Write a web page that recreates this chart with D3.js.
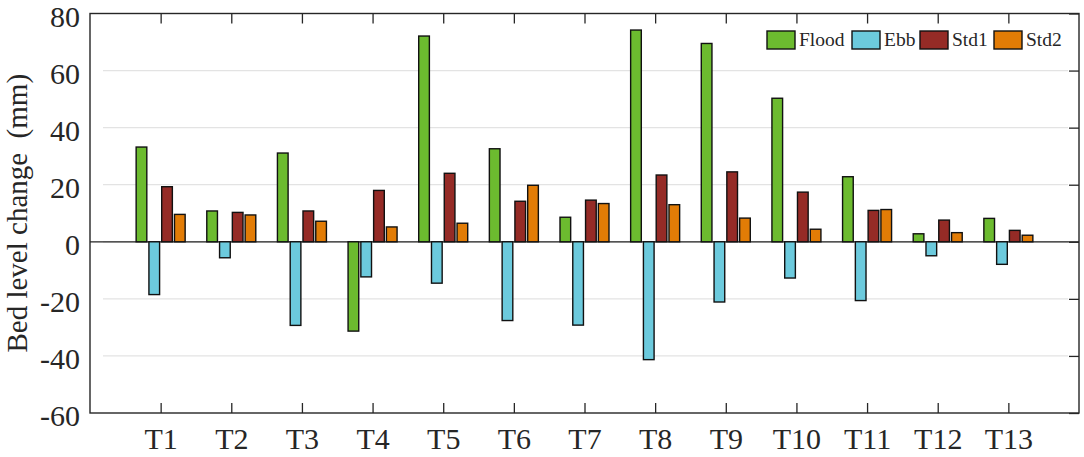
<!DOCTYPE html>
<html>
<head>
<meta charset="utf-8">
<script src="https://cdn.jsdelivr.net/npm/d3@7"></script>
<style>
  body { margin: 0; background: #fff; }
  svg { display: block; }
  svg text { font-family: "Liberation Serif", "Times New Roman", Times, serif !important; }
</style>
</head>
<body>
<div id="chart"></div>
<script>
const categories = ["T1", "T2", "T3", "T4", "T5", "T6", "T7", "T8", "T9", "T10", "T11", "T12", "T13"];
const seriesNames = ["Flood", "Ebb", "Std1", "Std2"];
const flood = [33.2, 10.8, 31.1, -31.3, 72.1, 32.6, 8.6, 74.2, 69.5, 50.3, 22.8, 2.8, 8.2];
const ebb = [-18.5, -5.6, -29.3, -12.3, -14.5, -27.6, -29.2, -41.3, -21.1, -12.7, -20.6, -4.9, -7.9];
const std1 = [19.3, 10.3, 10.8, 18.0, 24.0, 14.2, 14.6, 23.4, 24.5, 17.4, 11.0, 7.6, 4.0];
const std2 = [9.6, 9.4, 7.2, 5.2, 6.5, 19.8, 13.4, 13.0, 8.3, 4.4, 11.3, 3.2, 2.3];
const yTicks = [-60, -40, -20, 0, 20, 40, 60, 80];
const colors = ["#6cbb2f", "#6ccadd", "#952b26", "#e27c06"];

const width = 1084, height = 457;
const margin = { top: 13.5, right: 5, bottom: 44, left: 90 };

const svg = d3.select("#chart").append("svg")
  .attr("width", width).attr("height", height);

// categories sit at 1..13, plot edges at 0 and 14
const x = d3.scaleLinear().domain([0, 14]).range([margin.left, width - margin.right]);
const y = d3.scaleLinear().domain([-60, 80]).range([height - margin.bottom, margin.top]);
const sub = d3.scaleBand().domain(seriesNames).range([-24.5, 24.5]).paddingInner(0.165);

const x0 = x.range()[0], x1 = x.range()[1];
const yTop = y(80), yBot = y(-60);

// gridlines
svg.append("g")
  .selectAll("line")
  .data(yTicks.filter(t => t !== -60 && t !== 80))
  .join("line")
    .attr("x1", x0 + 13).attr("x2", x1 - 11)
    .attr("y1", d => y(d)).attr("y2", d => y(d))
    .attr("stroke", "#e3e3e3").attr("stroke-width", 1.2);

// zero line
svg.append("line")
  .attr("x1", x0).attr("x2", x1)
  .attr("y1", y(0)).attr("y2", y(0))
  .attr("stroke", "#222").attr("stroke-width", 1.3);

// bars
const data = [flood, ebb, std1, std2];
data.forEach((vals, j) => {
  svg.append("g")
    .selectAll("rect")
    .data(vals)
    .join("rect")
      .attr("x", (d, i) => x(i + 1) + sub(seriesNames[j]))
      .attr("y", d => y(Math.max(0, d)))
      .attr("width", sub.bandwidth())
      .attr("height", d => Math.abs(y(d) - y(0)))
      .attr("fill", colors[j])
      .attr("stroke", "#111")
      .attr("stroke-width", 1.4);
});

// axes, ticks pointing inward on all sides
const tickVals = d3.range(1, 14);
svg.append("g")
  .attr("transform", `translate(0,${yBot})`)
  .call(d3.axisBottom(x).tickValues(tickVals).tickSize(-10).tickPadding(15)
    .tickFormat(i => categories[i - 1]))
  .call(g => g.select(".domain").remove())
  .call(g => g.selectAll("line").attr("stroke", "#262626").attr("stroke-width", 1.3))
  .call(g => g.selectAll("text").attr("font-size", 30).attr("fill", "#262626"));

svg.append("g")
  .attr("transform", `translate(0,${yTop})`)
  .call(d3.axisTop(x).tickValues(tickVals).tickSize(-10).tickFormat(""))
  .call(g => g.select(".domain").remove())
  .call(g => g.selectAll("line").attr("stroke", "#262626").attr("stroke-width", 1.3));

svg.append("g")
  .attr("transform", `translate(${x0},0)`)
  .call(d3.axisLeft(y).tickValues(yTicks).tickSize(0).tickPadding(10)
    .tickFormat(d => String(d)))
  .call(g => g.select(".domain").remove())
  .call(g => g.selectAll("text").attr("font-size", 30).attr("fill", "#262626")
    .attr("dy", "0.43em"));

svg.append("g")
  .attr("transform", `translate(${x1},0)`)
  .call(d3.axisRight(y).tickValues(yTicks).tickSize(-10).tickFormat(""))
  .call(g => g.select(".domain").remove())
  .call(g => g.selectAll("line").attr("stroke", "#262626").attr("stroke-width", 1.3));

// box
svg.append("rect")
  .attr("x", x0).attr("y", yTop)
  .attr("width", x1 - x0).attr("height", yBot - yTop)
  .attr("fill", "none").attr("stroke", "#262626").attr("stroke-width", 1.4);

// y label
svg.append("text")
  .attr("transform", `translate(27,${(yTop + yBot) / 2}) rotate(-90)`)
  .attr("text-anchor", "middle")
  .attr("font-size", 29)
  .attr("fill", "#262626")
  .style("white-space", "pre")
  .text("Bed level change  (mm)");

// legend
const legendX = [767, 852, 920, 994];
const legend = svg.append("g");
seriesNames.forEach((name, j) => {
  legend.append("rect")
    .attr("x", legendX[j]).attr("y", 31)
    .attr("width", 28).attr("height", 18)
    .attr("fill", colors[j]).attr("stroke", "#111").attr("stroke-width", 1.4);
  legend.append("text")
    .attr("x", legendX[j] + 32).attr("y", 46)
    .attr("font-size", 19.5).attr("fill", "#262626")
    .text(name);
});
</script>
</body>
</html>
